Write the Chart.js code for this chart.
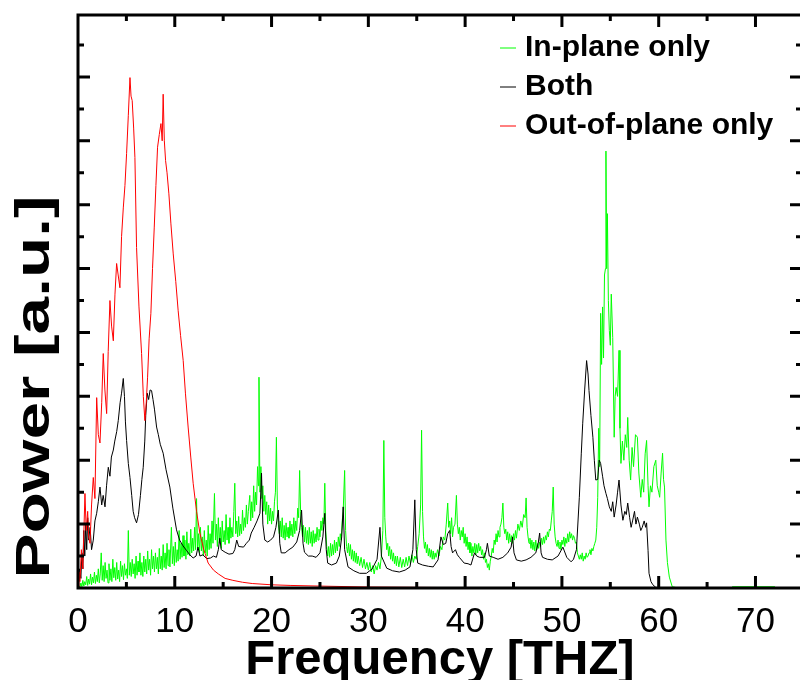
<!DOCTYPE html>
<html>
<head>
<meta charset="utf-8">
<script src="https://cdn.jsdelivr.net/npm/chart.js@4"></script>
<style>
  body { margin: 0; background: #fff; }
</style>
</head>
<body>
<canvas id="chart" width="800" height="680"></canvas>
<script>
// [frequency THz, power a.u.]
const inPlane = [
  [0,0],[0.1,0.03],[0.2,0.01],[0.3,0.08],[0.4,0.02],[0.5,0.12],[0.6,0.03],[0.7,0.1],[0.8,0.05],[0.9,0.18],
  [1.0,0.04],[1.1,0.14],[1.2,0.06],[1.3,0.22],[1.4,0.05],[1.5,0.17],[1.6,0.08],[1.7,0.25],[1.8,0.07],[1.9,0.2],
  [2.0,0.1],[2.1,0.3],[2.2,0.08],[2.3,0.22],[2.4,0.55],[2.5,0.12],[2.6,0.35],[2.7,0.1],[2.8,0.4],[2.9,0.15],
  [3.0,0.28],[3.1,0.08],[3.2,0.38],[3.3,0.12],[3.4,0.3],[3.5,0.1],[3.6,0.45],[3.7,0.16],[3.8,0.32],[3.9,0.12],
  [4.0,0.4],[4.1,0.14],[4.2,0.28],[4.3,0.1],[4.4,0.42],[4.5,0.18],[4.6,0.35],[4.7,0.13],[4.8,0.38],[4.9,0.2],
  [5.0,0.3],[5.1,0.15],[5.2,0.9],[5.3,0.2],[5.4,0.4],[5.5,0.18],[5.6,0.45],[5.7,0.22],[5.8,0.38],[5.9,0.15],
  [6.0,0.5],[6.1,0.2],[6.2,0.42],[6.3,0.25],[6.4,0.55],[6.5,0.2],[6.6,0.4],[6.7,0.18],[6.8,0.5],[6.9,0.25],
  [7.0,0.45],[7.1,0.22],[7.2,0.58],[7.3,0.28],[7.4,0.45],[7.5,0.2],[7.6,0.6],[7.7,0.3],[7.8,0.5],[7.9,0.25],
  [8.0,0.55],[8.1,0.3],[8.2,0.48],[8.3,0.22],[8.4,0.62],[8.5,0.3],[8.6,0.5],[8.7,0.28],[8.8,0.68],[8.9,0.32],
  [9.0,0.55],[9.1,0.3],[9.2,0.7],[9.3,0.35],[9.4,0.6],[9.5,0.33],[9.65,0.95],[9.75,0.38],[9.85,0.65],[9.95,0.35],
  [10.05,0.72],[10.15,0.4],[10.25,0.6],[10.35,0.42],[10.45,0.9],[10.55,0.45],[10.65,0.7],[10.75,0.48],[10.85,0.82],[10.95,0.5],
  [11.05,0.75],[11.15,0.45],[11.25,0.88],[11.35,0.52],[11.45,0.7],[11.55,0.5],[11.65,0.92],[11.75,0.55],[11.85,0.78],[11.95,0.58],
  [12.05,0.95],[12.15,0.6],[12.25,1.4],[12.35,0.62],[12.45,0.85],[12.55,0.55],[12.65,0.95],[12.75,0.58],[12.85,0.8],[12.95,0.5],
  [13.05,0.9],[13.15,0.55],[13.25,0.75],[13.35,0.5],[13.45,0.98],[13.55,0.6],[13.65,0.85],[13.75,0.62],[13.85,1.05],[13.95,0.7],
  [14.1,1.48],[14.2,0.75],[14.3,1.0],[14.4,0.65],[14.5,1.1],[14.6,0.7],[14.7,0.95],[14.8,0.62],[14.9,1.05],[15.0,0.72],
  [15.1,0.9],[15.2,0.68],[15.3,1.15],[15.4,0.75],[15.5,0.95],[15.6,0.7],[15.7,1.1],[15.8,0.78],[15.9,0.95],[16.0,0.8],
  [16.1,1.2],[16.2,1.64],[16.3,0.85],[16.4,1.05],[16.5,0.8],[16.6,1.12],[16.7,0.82],[16.8,1.0],[16.9,0.85],[17.0,1.22],
  [17.1,0.9],[17.2,1.1],[17.3,0.95],[17.4,1.3],[17.5,1.0],[17.6,1.2],[17.75,1.45],[17.85,1.05],[17.95,1.35],[18.05,1.1],
  [18.15,1.6],[18.25,1.2],[18.35,1.5],[18.45,1.3],[18.55,1.9],[18.65,1.6],[18.7,3.3],[18.8,1.5],[18.9,1.9],[19.0,1.4],
  [19.1,1.6],[19.2,1.2],[19.3,1.45],[19.4,1.15],[19.5,1.35],[19.6,1.0],[19.7,1.3],[19.8,1.05],[19.9,1.25],[20.0,1.0],
  [20.1,1.2],[20.2,1.05],[20.3,1.35],[20.4,1.5],[20.5,2.36],[20.6,1.3],[20.7,1.0],[20.8,0.85],[20.9,1.05],[21.0,0.8],
  [21.1,1.1],[21.2,0.78],[21.3,0.98],[21.4,0.75],[21.5,1.02],[21.6,0.8],[21.7,0.95],[21.8,0.78],[21.9,1.05],[22.0,0.82],
  [22.1,1.0],[22.2,0.8],[22.3,1.1],[22.4,0.85],[22.5,1.05],[22.6,0.9],[22.7,1.25],[22.8,1.1],[22.9,1.84],[23.0,1.2],
  [23.1,0.95],[23.2,0.8],[23.3,0.98],[23.4,0.72],[23.5,0.95],[23.6,0.7],[23.7,0.9],[23.8,0.68],[23.9,0.95],[24.0,0.7],
  [24.1,0.88],[24.2,0.65],[24.3,0.9],[24.4,0.7],[24.5,0.85],[24.6,0.72],[24.7,0.95],[24.8,0.75],[24.9,0.92],[25.0,0.8],
  [25.1,1.05],[25.2,0.9],[25.3,1.1],[25.4,1.0],[25.5,1.64],[25.6,0.9],[25.7,0.65],[25.8,0.5],[25.9,0.65],[26.0,0.48],
  [26.1,0.7],[26.2,0.5],[26.3,0.68],[26.4,0.52],[26.5,0.75],[26.6,0.55],[26.7,0.72],[26.8,0.58],[26.9,0.8],[27.0,0.65],
  [27.1,0.85],[27.2,0.75],[27.3,1.05],[27.4,1.2],[27.55,1.84],[27.65,0.9],[27.75,0.65],[27.85,0.55],[27.95,0.7],[28.05,0.5],
  [28.15,0.68],[28.25,0.45],[28.35,0.6],[28.45,0.42],[28.55,0.58],[28.65,0.4],[28.75,0.55],[28.85,0.38],[28.95,0.5],[29.1,0.35],
  [29.25,0.48],[29.4,0.32],[29.55,0.45],[29.7,0.3],[29.85,0.4],[30.0,0.28],[30.15,0.4],[30.3,0.25],[30.45,0.35],[30.6,0.22],
  [30.75,0.35],[30.9,0.28],[31.05,0.4],[31.2,0.3],[31.35,0.5],[31.5,0.9],[31.6,2.31],[31.7,1.1],[31.8,0.8],[31.9,0.6],
  [32.0,0.7],[32.1,0.5],[32.2,0.65],[32.3,0.45],[32.4,0.6],[32.5,0.42],[32.6,0.55],[32.7,0.38],[32.8,0.5],[32.9,0.35],
  [33.0,0.5],[33.15,0.33],[33.3,0.48],[33.45,0.32],[33.6,0.45],[33.75,0.33],[33.9,0.48],[34.05,0.35],[34.2,0.5],[34.35,0.38],
  [34.5,0.52],[34.65,0.4],[34.8,0.5],[34.95,0.45],[35.1,0.65],[35.25,0.85],[35.4,1.3],[35.5,2.47],[35.6,1.2],[35.7,0.8],
  [35.8,0.62],[35.9,0.72],[36.0,0.55],[36.1,0.68],[36.2,0.5],[36.3,0.62],[36.4,0.48],[36.5,0.6],[36.6,0.45],[36.7,0.58],
  [36.8,0.45],[36.9,0.55],[37.0,0.48],[37.15,0.6],[37.3,0.5],[37.45,0.65],[37.6,0.6],[37.75,0.8],[37.9,0.75],[38.05,1.0],
  [38.2,1.33],[38.3,0.95],[38.4,1.05],[38.5,0.85],[38.6,1.1],[38.7,0.8],[38.8,0.95],[38.95,1.0],[39.1,1.45],[39.2,1.0],
  [39.3,0.85],[39.4,0.95],[39.5,0.75],[39.6,0.9],[39.7,0.8],[39.8,0.95],[39.9,0.7],[40.0,0.85],[40.1,0.65],[40.2,0.8],
  [40.3,0.6],[40.4,0.72],[40.5,0.55],[40.6,0.7],[40.7,0.5],[40.8,0.65],[40.9,0.55],[41.0,0.7],[41.1,0.52],[41.2,0.68],
  [41.3,0.55],[41.4,0.7],[41.5,0.58],[41.6,0.65],[41.7,0.52],[41.8,0.6],[41.9,0.45],[42.0,0.55],[42.1,0.4],[42.2,0.45],
  [42.3,0.32],[42.4,0.38],[42.5,0.28],[42.6,0.42],[42.7,0.5],[42.8,0.62],[42.9,0.55],[43.0,0.75],[43.1,0.68],[43.2,0.85],
  [43.3,0.72],[43.4,0.9],[43.5,0.8],[43.6,0.95],[43.7,1.0],[43.8,1.1],[43.9,1.33],[44.0,0.95],[44.1,0.85],[44.2,0.92],
  [44.3,0.75],[44.4,0.88],[44.5,0.7],[44.6,0.85],[44.7,0.72],[44.8,0.82],[44.9,0.7],[45.0,0.85],[45.1,0.75],[45.2,0.9],
  [45.3,0.78],[45.45,1.0],[45.6,0.9],[45.75,1.05],[45.9,0.95],[46.05,1.15],[46.2,1.1],[46.3,1.41],[46.4,0.95],[46.5,0.8],
  [46.6,0.7],[46.7,0.78],[46.8,0.62],[46.9,0.75],[47.0,0.6],[47.1,0.72],[47.2,0.58],[47.3,0.75],[47.4,0.6],[47.5,0.7],
  [47.6,0.62],[47.7,0.72],[47.8,0.65],[47.9,0.78],[48.0,0.68],[48.1,0.8],[48.2,0.7],[48.3,0.82],[48.4,0.75],[48.5,0.88],
  [48.6,0.8],[48.7,0.92],[48.8,0.9],[48.9,1.05],[49.0,1.2],[49.1,1.58],[49.2,1.0],[49.3,0.8],[49.4,0.7],[49.5,0.65],
  [49.6,0.75],[49.7,0.62],[49.8,0.72],[49.9,0.6],[50.0,0.75],[50.1,0.68],[50.2,0.8],[50.3,0.65],[50.4,0.78],[50.5,0.7],
  [50.6,0.85],[50.7,0.72],[50.8,0.88],[50.9,0.78],[51.0,0.85],[51.1,0.75],[51.2,0.82],[51.3,0.78],[51.4,0.7],[51.5,0.72],
  [51.6,0.55],[51.7,0.5],[51.8,0.45],[51.9,0.52],[52.0,0.45],[52.1,0.55],[52.2,0.42],[52.3,0.5],[52.4,0.45],[52.5,0.55],
  [52.6,0.48],[52.7,0.5],[52.8,0.55],[52.9,0.6],[53.0,0.52],[53.1,0.62],[53.2,0.58],[53.3,0.65],[53.4,0.7],[53.5,0.75],
  [53.6,0.95],[53.7,1.42],[53.8,2.5],[53.9,1.9],[54.0,4.3],[54.1,3.5],[54.2,4.4],[54.3,3.6],[54.4,4.9],[54.5,5.0],
  [54.55,6.84],[54.62,5.0],[54.7,5.86],[54.8,4.5],[54.9,4.03],[55.0,3.8],[55.1,4.6],[55.25,3.92],[55.4,2.36],[55.5,3.0],
  [55.6,3.14],[55.75,3.0],[55.9,3.72],[56.0,2.5],[56.1,1.95],[56.25,2.3],[56.4,2.0],[56.55,2.4],[56.7,2.2],[56.8,2.67],
  [56.95,2.0],[57.1,1.69],[57.25,2.2],[57.4,1.9],[57.6,2.4],[57.8,2.36],[57.95,1.8],[58.15,1.42],[58.3,1.7],[58.45,1.5],
  [58.6,2.1],[58.75,2.31],[58.9,1.6],[59.0,1.27],[59.15,1.6],[59.3,1.5],[59.5,1.9],[59.7,2.0],[59.85,1.6],[60.0,1.5],
  [60.1,1.42],[60.25,1.8],[60.4,2.11],[60.5,1.7],[60.6,1.58],[60.75,0.75],[60.9,0.4],[61.1,0.17],[61.4,0.02],[62,0],
  [67.5,0],[67.6,0.02],[72,0.02],[72.1,0],[74.6,0]
];

const both = [
  [0,0],[0.15,0.3],[0.3,0.15],[0.4,0.55],[0.5,0.3],[0.6,0.9],[0.7,0.5],[0.8,1.0],[0.9,0.6],[1.0,1.1],
  [1.1,0.75],[1.25,0.95],[1.4,0.6],[1.58,0.75],[1.75,1.05],[1.93,1.17],[2.1,1.35],[2.27,1.58],[2.45,1.3],[2.6,1.45],
  [2.79,1.27],[2.95,1.6],[3.13,1.89],[3.3,1.75],[3.45,2.05],[3.65,2.16],[3.8,2.3],[4.0,2.45],[4.16,2.62],[4.35,2.9],
  [4.5,3.05],[4.68,3.28],[4.8,3.0],[4.9,2.6],[5.02,2.31],[5.2,1.95],[5.37,1.73],[5.55,1.45],[5.7,1.2],[5.85,1.1],
  [6.05,1.02],[6.25,1.15],[6.45,1.45],[6.6,1.7],[6.74,1.89],[6.9,2.3],[7.0,2.7],[7.15,3.05],[7.3,2.95],[7.45,3.1],
  [7.6,3.09],[7.75,2.95],[7.9,2.8],[8.12,2.52],[8.3,2.4],[8.5,2.25],[8.8,2.11],[9.1,1.85],[9.49,1.58],[9.8,1.25],
  [10.18,0.91],[10.5,0.75],[10.85,0.66],[11.2,0.59],[11.55,0.52],[11.9,0.47],[12.2,0.5],[12.4,0.64],[12.6,0.5],[12.9,0.52],
  [13.3,0.46],[13.7,0.47],[14.0,0.5],[14.3,0.48],[14.5,0.6],[14.65,0.78],[14.8,0.6],[15.2,0.56],[15.6,0.53],[16.0,0.54],
  [16.2,0.6],[16.4,0.75],[16.6,0.65],[17.1,0.64],[17.4,0.7],[17.7,0.75],[17.9,0.86],[18.2,0.95],[18.5,1.05],[18.8,1.17],
  [18.96,1.8],[19.1,1.0],[19.3,0.75],[19.6,0.72],[19.9,0.75],[20.2,0.8],[20.45,0.95],[20.7,1.22],[20.85,0.7],[21.0,0.55],
  [21.4,0.55],[21.8,0.6],[22.2,0.64],[22.6,0.72],[22.9,0.9],[23.1,1.22],[23.25,0.7],[23.4,0.56],[23.8,0.5],[24.2,0.5],
  [24.6,0.48],[25.0,0.55],[25.3,0.8],[25.5,1.17],[25.65,0.6],[25.8,0.39],[26.2,0.36],[26.7,0.39],[27.0,0.5],[27.25,0.8],
  [27.4,1.27],[27.55,0.6],[27.9,0.33],[28.5,0.27],[29.1,0.23],[29.8,0.23],[30.4,0.3],[30.9,0.45],[31.2,0.95],[31.35,0.5],
  [31.9,0.31],[32.5,0.27],[33.2,0.25],[33.8,0.28],[34.3,0.33],[34.6,0.6],[34.8,1.38],[34.95,0.6],[35.1,0.39],[35.6,0.36],
  [36.2,0.34],[36.7,0.33],[37.2,0.44],[37.5,0.8],[37.75,0.68],[38.0,0.7],[38.2,0.85],[38.4,0.9],[38.55,0.65],[38.7,0.55],
  [39.0,0.6],[39.2,0.52],[39.4,0.48],[39.9,0.39],[40.3,0.38],[40.6,0.36],[40.97,0.55],[41.2,0.5],[41.5,0.48],[42.0,0.48],
  [42.2,0.6],[42.3,0.7],[42.5,0.5],[42.9,0.48],[43.4,0.45],[43.9,0.48],[44.4,0.55],[44.75,0.64],[44.9,0.8],[45.05,0.55],
  [45.3,0.44],[45.8,0.42],[46.3,0.44],[46.8,0.48],[47.3,0.55],[47.55,0.7],[47.7,0.86],[47.85,0.55],[48.0,0.48],[48.5,0.45],
  [49.0,0.44],[49.6,0.5],[50.1,0.64],[50.5,0.48],[50.95,0.41],[51.2,0.45],[51.5,0.6],[51.8,1.42],[52.0,2.1],[52.15,2.58],
  [52.35,3.1],[52.55,3.56],[52.7,3.35],[52.8,3.09],[53.0,2.7],[53.2,2.36],[53.35,2.0],[53.5,1.69],[53.7,1.7],[53.85,2.0],
  [54.0,1.95],[54.2,1.75],[54.35,1.6],[54.55,1.48],[54.7,1.4],[54.9,1.27],[55.1,1.2],[55.25,1.35],[55.4,1.11],[55.6,1.3],
  [55.75,1.5],[55.9,1.69],[56.1,1.3],[56.3,1.06],[56.5,1.2],[56.65,1.15],[56.8,1.33],[57.0,1.1],[57.15,0.95],[57.3,1.05],
  [57.5,1.2],[57.65,1.0],[57.8,1.11],[58.0,1.0],[58.15,0.9],[58.3,0.95],[58.5,1.05],[58.65,0.95],[58.75,1.02],[58.9,0.59],
  [59.0,0.23],[59.2,0.1],[59.4,0.05],[59.7,0.01],[60.1,0],[74.6,0]
];

const outOfPlane = [
  [0,0],[0.1,0.25],[0.2,0.1],[0.35,0.6],[0.5,0.3],[0.72,1.48],[0.85,0.9],[1.0,1.2],[1.1,0.8],[1.24,0.7],
  [1.4,1.3],[1.58,1.73],[1.75,1.4],[1.93,2.98],[2.1,2.4],[2.27,2.27],[2.45,2.9],[2.61,3.67],[2.78,3.1],[2.96,2.73],
  [3.12,3.7],[3.3,4.5],[3.47,4.1],[3.65,3.87],[3.82,4.6],[3.99,5.08],[4.15,4.9],[4.33,4.7],[4.5,5.5],[4.68,5.95],
  [4.85,6.3],[5.02,6.8],[5.2,7.4],[5.37,7.99],[5.48,7.7],[5.6,7.63],[5.75,7.2],[5.88,6.74],[6.05,5.33],[6.3,4.4],
  [6.57,3.67],[6.75,3.0],[6.91,2.62],[7.05,2.9],[7.19,3.3],[7.35,3.9],[7.53,4.3],[7.7,5.0],[7.88,5.65],[8.05,6.3],
  [8.22,6.9],[8.4,7.1],[8.57,7.27],[8.7,7.0],[8.8,7.73],[8.92,7.0],[9.05,6.69],[9.2,6.5],[9.39,6.17],[9.6,5.7],
  [9.84,5.23],[10.1,4.8],[10.35,4.34],[10.6,3.95],[10.87,3.56],[11.1,3.05],[11.38,2.52],[11.65,2.05],[11.9,1.64],[12.25,1.2],
  [12.59,0.86],[13.0,0.6],[13.45,0.39],[14.0,0.28],[14.5,0.22],[15.2,0.15],[16,0.12],[17,0.09],[18,0.07],[20,0.05],
  [22,0.04],[25,0.03],[30,0.015],[35,0.01],[40,0.005],[45,0],[74.6,0]
];

const seriesNames = ['In-plane only', 'Both', 'Out-of-plane only'];
const seriesColors = ['#00ff00', '#000000', '#ff0000'];
const xTicks = [0, 10, 20, 30, 40, 50, 60, 70];
const xTitle = 'Frequency [THZ]';
const yTitle = 'Power [a.u.]';

function toPts(arr) {
  return arr.map((p) => ({ x: p[0], y: p[1] }));
}

// frame with inward ticks, legend box and axis titles
const framePlugin = {
  id: 'frame',
  afterDatasetsDraw(chart) {
    const ctx = chart.ctx;
    const a = chart.chartArea;
    const xs = chart.scales.x;
    const ys = chart.scales.y;
    const right = a.right + 2;
    ctx.save();
    ctx.strokeStyle = '#000';
    ctx.lineWidth = 3;
    ctx.beginPath();
    ctx.moveTo(a.left, a.bottom);
    ctx.lineTo(a.left, a.top);
    ctx.lineTo(right, a.top);
    ctx.lineTo(right, a.bottom);
    ctx.lineTo(a.left - 1.5, a.bottom);
    ctx.stroke();

    ctx.beginPath();
    for (let v = 5; v < xs.max; v += 5) {
      const px = xs.getPixelForValue(v);
      const len = v % 10 === 0 ? 12 : 6;
      ctx.moveTo(px, a.bottom);
      ctx.lineTo(px, a.bottom - len);
      ctx.moveTo(px, a.top);
      ctx.lineTo(px, a.top + len);
    }
    for (let v = 0.5; v < ys.max; v += 0.5) {
      const py = ys.getPixelForValue(v);
      const len = v % 1 === 0 ? 12 : 6;
      ctx.moveTo(a.left, py);
      ctx.lineTo(a.left + len, py);
      ctx.moveTo(right, py);
      ctx.lineTo(right - len, py);
    }
    ctx.stroke();

    // legend
    const legY = [48, 87, 126];
    ctx.lineWidth = 1;
    ctx.font = 'bold 30px "Liberation Sans", Arial, sans-serif';
    ctx.textBaseline = 'middle';
    ctx.textAlign = 'left';
    seriesNames.forEach((name, i) => {
      ctx.strokeStyle = seriesColors[i];
      ctx.beginPath();
      ctx.moveTo(500, legY[i]);
      ctx.lineTo(516, legY[i]);
      ctx.stroke();
      ctx.fillStyle = '#000';
      ctx.fillText(name, 525, legY[i]);
    });

    // axis titles
    ctx.fillStyle = '#000';
    ctx.font = 'bold 49px "Liberation Sans", Arial, sans-serif';
    ctx.textAlign = 'center';
    ctx.textBaseline = 'alphabetic';
    ctx.fillText(xTitle, 440, 674);

    ctx.save();
    ctx.translate(49, 387);
    ctx.rotate(-Math.PI / 2);
    ctx.scale(1.38, 1);
    ctx.fillText(yTitle, 0, 0);
    ctx.restore();

    ctx.restore();
  }
};

const canvas = document.getElementById('chart');
new Chart(canvas, {
  type: 'line',
  data: {
    datasets: [
      { label: seriesNames[2], data: toPts(outOfPlane), borderColor: seriesColors[2], order: 1 },
      { label: seriesNames[1], data: toPts(both), borderColor: seriesColors[1], order: 2 },
      { label: seriesNames[0], data: toPts(inPlane), borderColor: seriesColors[0], order: 3 }
    ]
  },
  options: {
    responsive: false,
    animation: false,
    elements: {
      point: { radius: 0 },
      line: { borderWidth: 1, tension: 0 }
    },
    layout: { padding: { top: 15, right: 0, left: 0, bottom: 0 } },
    plugins: {
      legend: { display: false },
      tooltip: { enabled: false }
    },
    scales: {
      x: {
        type: 'linear',
        min: 0,
        max: 74.6,
        grid: { display: false },
        border: { display: false },
        afterBuildTicks: (s) => { s.ticks = xTicks.map((v) => ({ value: v })); },
        afterFit: (s) => { s.height = 92; },
        ticks: {
          color: '#000',
          font: { family: '"Liberation Sans", Arial, sans-serif', size: 35 },
          padding: 5,
          maxRotation: 0,
          autoSkip: false
        }
      },
      y: {
        min: 0,
        max: 8.97,
        grid: { display: false },
        border: { display: false },
        ticks: { display: false },
        afterFit: (s) => { s.width = 78; }
      }
    }
  },
  plugins: [framePlugin]
});
</script>
</body>
</html>
